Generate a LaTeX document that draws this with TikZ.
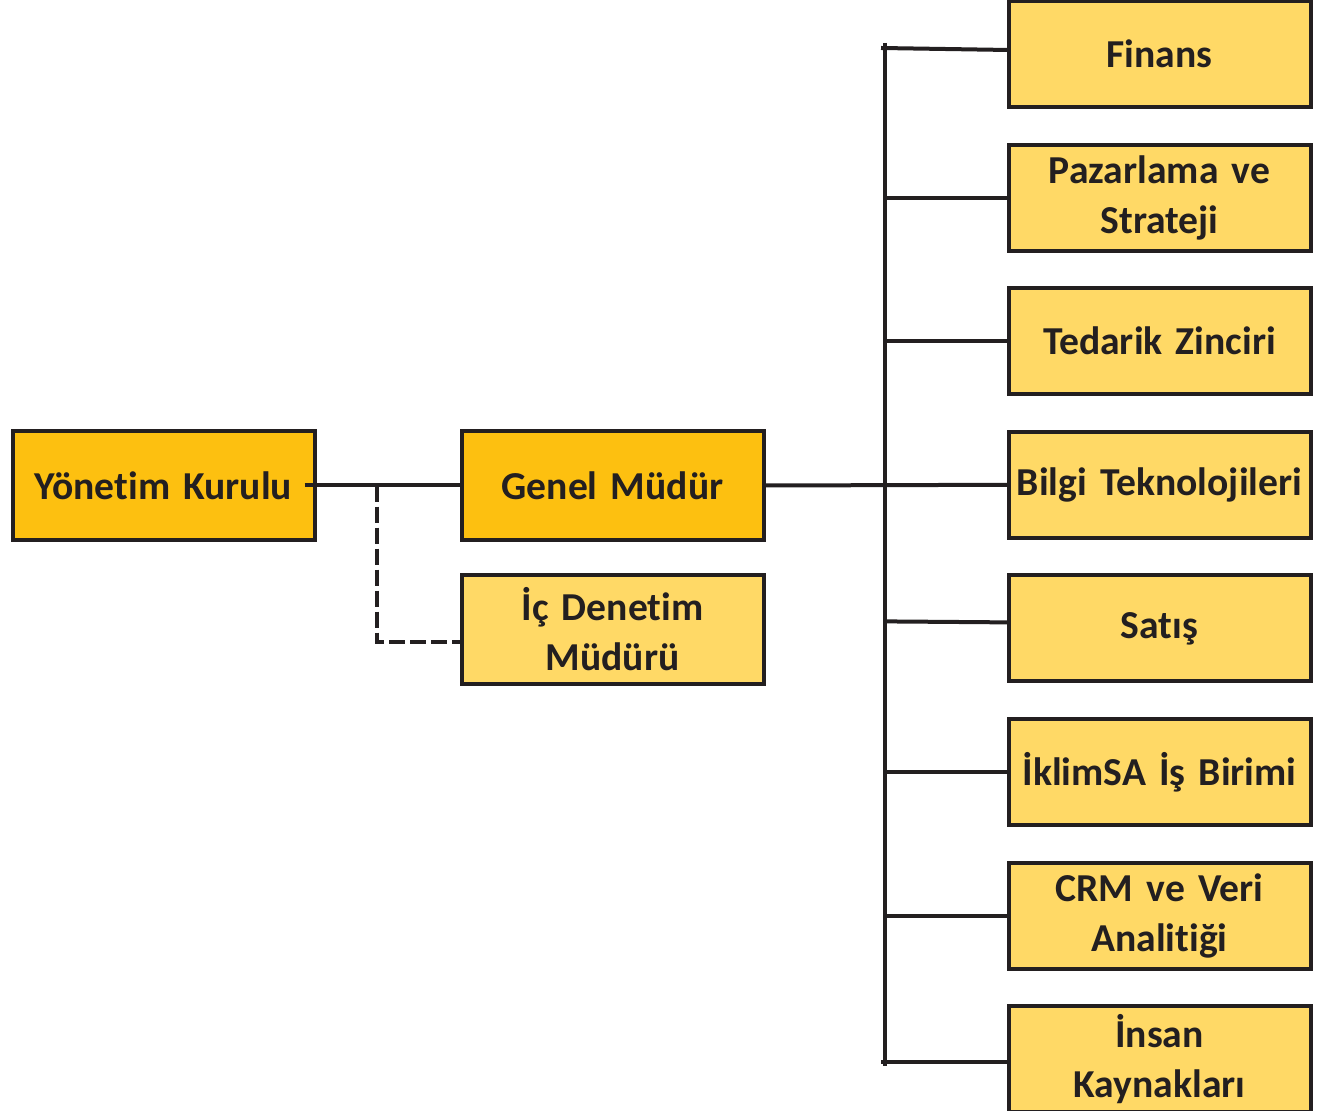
\documentclass[tikz,border=0pt]{standalone}
\usepackage{fontspec}
\setmainfont{Carlito}[Ligatures=NoCommon, WordSpace=0.85]
\usepackage{xcolor}
\usepackage{tikz}
\usetikzlibrary{positioning}

\definecolor{gold}{HTML}{FDC010}
\definecolor{lightgold}{HTML}{FFD966}
\definecolor{ink}{HTML}{231F20}

\begin{document}
\begin{tikzpicture}[
    x=0.5pt, y=-0.5pt,
    box/.style={rectangle, draw=ink, line width=2pt, minimum width=151pt, minimum height=53pt,
        inner sep=1pt, outer sep=0pt, text width=149pt, align=center, text=ink,
        font=\fontsize{19.8}{25}\selectfont\bfseries},
    topbox/.style={box, fill=gold, minimum height=54.5pt},
    unitbox/.style={box, fill=lightgold},
    link/.style={draw=ink, line width=2pt},
    dashedlink/.style={draw=ink, line width=2pt, dash pattern=on 8pt off 2.5pt}
]
\useasboundingbox (0,0) rectangle (1325,1111);

% Board and general manager
\node[topbox] (gm) at (612.5,485.5) {Genel Müdür};
\node[topbox, left=73.5pt of gm] (board) {Yönetim Kurulu};
\node[unitbox, below=17.5pt of gm, minimum height=54.5pt] (audit) {İç Denetim\\Müdürü};

% Departments
\node[unitbox] (finans) at (1159.5,54) {Finans};
\node[unitbox, below=18.8pt of finans] (pazarlama) {Pazarlama ve\\Strateji};
\node[unitbox, below=18.8pt of pazarlama] (tedarik) {Tedarik Zinciri};
\node[unitbox, below=18.8pt of tedarik] (bilgi) {Bilgi Teknolojileri};
\node[unitbox, below=18.8pt of bilgi] (satis) {Satış};
\node[unitbox, below=18.8pt of satis] (iklim) {İklimSA İş Birimi};
\node[unitbox, below=18.8pt of iklim] (crm) {CRM ve Veri\\Analitiği};
\node[unitbox, below=18.8pt of crm] (insan) {İnsan\\Kaynakları};

% Trunk
\coordinate (trunktop) at (885,43);
\coordinate (trunkbot) at (885,1066);
\coordinate (split) at (377,485.5);

% Lines
\draw[link] ([xshift=-5pt]board.east) -- (gm.west);
\draw[link] (gm.east) -- (bilgi.west);
\draw[link] (trunktop) -- (trunkbot);
\draw[link] ([xshift=-2pt]trunktop |- finans.west) ++(0,-6) -- ([yshift=2pt]finans.west);
\foreach \dept in {pazarlama, tedarik, iklim, crm}
    \draw[link] (trunktop |- \dept.west) -- (\dept.west);
\draw[link] ([yshift=3.5pt]trunktop |- satis.west) -- ([yshift=3pt]satis.west);
\draw[link] ([xshift=-2pt,yshift=-1.5pt]trunkbot |- insan.west) -- ([yshift=-1.5pt]insan.west);

\draw[dashedlink] (split) |- ([yshift=-6pt]audit.west);

\end{tikzpicture}
\end{document}
